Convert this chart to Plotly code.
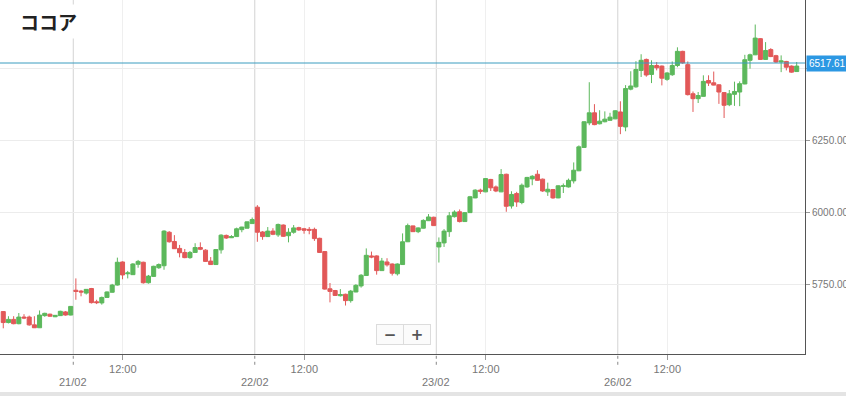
import plotly.graph_objects as go

# ---------------- data ----------------
day_labels = ["21/02", "22/02", "23/02", "26/02"]
candles_per_day = 35
prev_day_visible = 14          # candles of 20/02 still in view
noon_offset = 9.55             # 12:00 position inside a session (in candle slots)
last_price = 6517.61

open_ = [
    5656, 5618, 5629, 5614, 5637, 5637, 5610, 5600, 5642, 5647, 5638, 5642, 5655, 5644,
    5730, 5727, 5720, 5736, 5690, 5686, 5705, 5723, 5748, 5828, 5787, 5784, 5820, 5827, 5756, 5778, 5808, 5815, 5931, 5899, 5875,
    5861, 5843, 5861, 5878, 5869, 5831, 5819, 5870, 5920, 5912, 5916, 5940, 5945, 5961,
    6018, 5932, 5916, 5935, 5922, 5956, 5919, 5931, 5947, 5943, 5941, 5941, 5910, 5864, 5735, 5729, 5711, 5716, 5694, 5724,
    5745, 5781, 5849, 5849, 5798, 5828, 5821, 5787, 5819, 5898, 5953, 5933, 5945, 5971, 5983,
    5880, 5894, 5933, 5985, 6002, 5968, 5999, 6050, 6077, 6071, 6114, 6088, 6071, 6132, 6022, 6065, 6034, 6088, 6116, 6132,
    6115, 6071, 6079, 6050, 6090, 6088, 6109, 6144, 6225, 6310, 6345, 6307, 6314, 6319, 6324,
    6348, 6296, 6427, 6435, 6492, 6530, 6478, 6509, 6507, 6461, 6477, 6509, 6558, 6512, 6411, 6394, 6402, 6457, 6449, 6442,
    6415, 6373, 6409, 6417, 6445, 6527, 6546, 6602, 6530, 6564, 6543, 6521, 6523, 6507, 6488,
]
high = [
    5658, 5640, 5640, 5651, 5647, 5642, 5640, 5660, 5652, 5649, 5644, 5659, 5658, 5675,
    5771, 5731, 5734, 5738, 5697, 5708, 5726, 5752, 5843, 5830, 5797, 5824, 5835, 5829, 5783, 5815, 5823, 5938, 5935, 5921, 5887,
    5873, 5866, 5893, 5896, 5872, 5845, 5873, 5924, 5923, 5921, 5947, 5950, 5968, 5982,
    6025, 5935, 5949, 5945, 5961, 5958, 5945, 5956, 5950, 5946, 5949, 5947, 5912, 5866, 5755, 5731, 5734, 5718, 5731, 5751,
    5786, 5875, 5864, 5851, 5842, 5841, 5823, 5823, 5927, 5961, 5954, 5948, 5976, 5994, 5985,
    5913, 5942, 6001, 6007, 6010, 6001, 6057, 6080, 6082, 6119, 6116, 6093, 6150, 6134, 6073, 6071, 6100, 6123, 6129, 6146,
    6117, 6103, 6081, 6094, 6100, 6117, 6173, 6232, 6316, 6451, 6375, 6354, 6350, 6345, 6354,
    6385, 6441, 6489, 6524, 6548, 6533, 6527, 6521, 6509, 6486, 6523, 6572, 6560, 6523, 6419, 6417, 6475, 6475, 6488, 6444,
    6417, 6424, 6453, 6454, 6546, 6550, 6651, 6604, 6590, 6569, 6546, 6544, 6525, 6509, 6521,
]
low = [
    5598, 5615, 5612, 5612, 5630, 5607, 5599, 5599, 5638, 5638, 5637, 5641, 5642, 5643,
    5697, 5709, 5715, 5684, 5682, 5680, 5704, 5722, 5746, 5768, 5771, 5783, 5808, 5753, 5753, 5776, 5804, 5801, 5895, 5873, 5844,
    5841, 5839, 5860, 5869, 5829, 5818, 5818, 5857, 5908, 5911, 5915, 5931, 5944, 5960,
    5898, 5905, 5915, 5921, 5915, 5915, 5896, 5926, 5936, 5926, 5924, 5901, 5859, 5732, 5688, 5710, 5708, 5677, 5687, 5723,
    5739, 5780, 5841, 5784, 5797, 5812, 5781, 5781, 5818, 5897, 5932, 5928, 5944, 5970, 5953,
    5826, 5880, 5915, 5982, 5965, 5967, 5998, 6049, 6064, 6070, 6074, 6070, 6070, 6002, 6013, 6019, 6028, 6085, 6094, 6109,
    6071, 6057, 6047, 6049, 6067, 6086, 6100, 6143, 6223, 6302, 6302, 6305, 6312, 6318, 6323,
    6271, 6281, 6423, 6432, 6469, 6470, 6448, 6492, 6440, 6456, 6473, 6503, 6515, 6405, 6348, 6379, 6401, 6438, 6440, 6376,
    6327, 6368, 6369, 6368, 6444, 6498, 6545, 6529, 6529, 6538, 6518, 6486, 6492, 6484, 6487,
]
close = [
    5618, 5629, 5614, 5637, 5634, 5610, 5600, 5644, 5650, 5640, 5643, 5657, 5644, 5674,
    5726, 5724, 5733, 5687, 5687, 5705, 5724, 5748, 5827, 5783, 5790, 5821, 5830, 5756, 5779, 5813, 5819, 5935, 5898, 5874, 5860,
    5843, 5861, 5878, 5872, 5830, 5819, 5871, 5921, 5911, 5916, 5943, 5949, 5967, 5975,
    5931, 5916, 5935, 5924, 5958, 5917, 5931, 5946, 5939, 5938, 5938, 5909, 5861, 5734, 5726, 5712, 5715, 5694, 5727, 5747,
    5782, 5851, 5845, 5798, 5831, 5818, 5789, 5821, 5898, 5954, 5933, 5946, 5972, 5984, 5954,
    5896, 5935, 5988, 6001, 5968, 5999, 6054, 6077, 6073, 6117, 6085, 6074, 6131, 6021, 6062, 6036, 6094, 6121, 6125, 6111,
    6074, 6080, 6050, 6092, 6092, 6111, 6146, 6227, 6314, 6345, 6304, 6316, 6323, 6330, 6352,
    6298, 6429, 6438, 6495, 6527, 6476, 6509, 6501, 6465, 6483, 6509, 6558, 6518, 6408, 6394, 6405, 6454, 6448, 6441, 6417,
    6371, 6411, 6419, 6446, 6529, 6546, 6604, 6530, 6561, 6540, 6521, 6525, 6503, 6486, 6507,
]
y_ticks = [5750, 6000, 6250, 6500]

# ---------------- positions (candle slots; 21/02 session starts at 0) ----------------
x = [i - prev_day_visible + 0.5 for i in range(len(close))]
day_pos = [d * candles_per_day for d in range(len(day_labels))]
noon_pos = [p + noon_offset for p in day_pos]

GREEN = "#5cb85c"
RED = "#e25858"
X_FONT = dict(family="Liberation Sans, Arial, sans-serif", size=11, color="#777777")
Y_FONT = dict(family="Liberation Sans, Arial, sans-serif", size=10, color="#777777")

fig = go.Figure()
fig.add_trace(go.Candlestick(
    x=x, open=open_, high=high, low=low, close=close,
    increasing=dict(line=dict(color=GREEN, width=1), fillcolor=GREEN),
    decreasing=dict(line=dict(color=RED, width=1), fillcolor=RED),
    whiskerwidth=0, hoverinfo="skip", showlegend=False,
))

shapes = []
# darker session separators
for p in day_pos:
    shapes.append(dict(type="line", xref="x", yref="paper", x0=p, x1=p, y0=0, y1=1,
                       line=dict(color="#d3d3d3", width=1), layer="below"))
    shapes.append(dict(type="line", xref="x", yref="paper", x0=p, x1=p, y0=-0.005, y1=-0.034,
                       line=dict(color="#888888", width=1, dash="dot")))
# last price line
shapes.append(dict(type="line", xref="paper", yref="y", x0=0, x1=1, y0=last_price, y1=last_price,
                   line=dict(color="#3a9cbf", width=1)))
# bottom grey strip
shapes.append(dict(type="rect", xref="paper", yref="paper", x0=0, x1=846 / 805, y0=-42 / 354, y1=-38 / 354,
                   line=dict(width=0), fillcolor="#e4e4e4"))

annotations = []
for p, lab in zip(day_pos, day_labels):
    annotations.append(dict(x=p, y=-28 / 354, xref="x", yref="paper", text=lab, showarrow=False,
                            xanchor="center", yanchor="middle", font=X_FONT))
annotations.append(dict(x=16 / 805, y=1 - 4 / 354, xref="paper", yref="paper", text="<b>ココア</b>",
                        showarrow=False, xanchor="left", yanchor="top", bgcolor="white", borderpad=3,
                        font=dict(family="Noto Sans CJK JP", size=19, color="#222222")))
annotations.append(dict(x=1, y=last_price, xref="paper", yref="y", text=f"{last_price:.2f}",
                        showarrow=False, xanchor="left", yanchor="middle", xshift=1,
                        bgcolor="#2c98e3", borderpad=2,
                        font=dict(family="Liberation Sans, Arial, sans-serif", size=10, color="white")))
for sym, px in (("−", 390), ("+", 417)):
    annotations.append(dict(x=px / 805, y=20 / 354, xref="paper", yref="paper", text=f"<b>{sym}</b>",
                            showarrow=False, xanchor="center", yanchor="middle", width=24, height=17,
                            bgcolor="#fbfbfb", bordercolor="#dcdcdc", borderwidth=1,
                            font=dict(family="DejaVu Sans", size=15, color="#555555")))

fig.update_layout(
    width=846, height=396,
    margin=dict(l=0, r=41, t=0, b=42, autoexpand=False),
    paper_bgcolor="white", plot_bgcolor="white",
    boxgap=0.22, boxgroupgap=0,
    shapes=shapes, annotations=annotations,
    xaxis=dict(
        range=[-prev_day_visible - 0.13, len(day_labels) * candles_per_day + 1.1],
        tickmode="array", tickvals=noon_pos, ticktext=["12:00"] * len(noon_pos),
        showgrid=True, gridcolor="#efefef", gridwidth=1,
        ticks="outside", ticklen=5, tickcolor="#999999",
        showline=True, linecolor="#555555", linewidth=1,
        tickfont=X_FONT, rangeslider=dict(visible=False), zeroline=False, fixedrange=True,
        automargin=False,
    ),
    yaxis=dict(
        side="right", range=[5509, 6736],
        tickmode="array", tickvals=y_ticks,
        ticktext=[f"{v:.2f}" if v != 6500 else "" for v in y_ticks],
        showgrid=True, gridcolor="#ececec", gridwidth=1,
        ticks="outside", ticklen=4, tickcolor="#999999",
        showline=True, linecolor="#555555", linewidth=1,
        tickfont=Y_FONT, zeroline=False, fixedrange=True, automargin=False,
    ),
)

fig.write_html("out.html", config={"displayModeBar": False},
               post_script="document.body.style.margin='0';document.body.style.overflow='hidden';")
